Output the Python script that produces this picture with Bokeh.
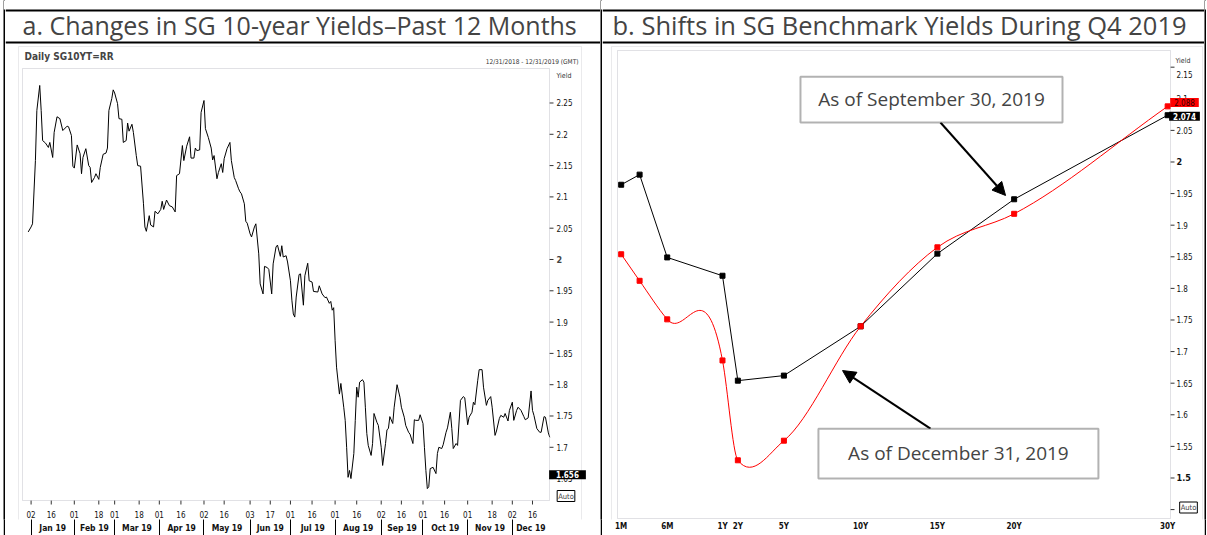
import numpy as np
from bokeh.plotting import figure
from bokeh.layouts import row
from bokeh.models import (Range1d, FixedTicker, Label, Arrow,
                          NormalHead, BoxAnnotation, Span)
from bokeh.core.properties import value
from bokeh.embed import file_html
from bokeh.resources import INLINE

# ---------------- data: panel a (daily SG 10Y yield, day offset from 31 Dec 2018) -------------
day_a = [
    0, 2, 3, 5, 6, 8, 9, 10, 12, 14,
    15, 17, 18, 20, 22, 24, 27, 28, 30, 31,
    32, 34, 36, 37, 38, 40, 42, 43, 44, 46,
    47, 49, 50, 52, 54, 55, 56, 58, 59, 60,
    62, 63, 65, 66, 68, 69, 70, 72, 73, 75,
    76, 78, 80, 81, 82, 84, 85, 87, 88, 90,
    92, 93, 94, 96, 98, 100, 102, 103, 105, 107,
    108, 110, 112, 113, 115, 116, 117, 119, 120, 122,
    123, 125, 127, 128, 129, 131, 132, 134, 135, 136,
    138, 140, 141, 143, 144, 146, 147, 148, 150, 151,
    152, 154, 155, 157, 158, 160, 161, 163, 164, 166,
    167, 169, 170, 172, 173, 175, 176, 177, 179, 180,
    182, 183, 184, 185, 186, 188, 189, 191, 192, 194,
    195, 197, 198, 201, 202, 204, 206, 207, 209, 210,
    211, 212, 213, 214, 216, 217, 219, 220, 221, 222,
    223, 224, 226, 227, 228, 229, 230, 232, 233, 234,
    235, 236, 238, 239, 240, 242, 243, 245, 246, 248,
    249, 250, 251, 253, 254, 256, 258, 259, 261, 262,
    264, 265, 267, 268, 269, 271, 272, 274, 275, 276,
    277, 278, 279, 281, 283, 284, 285, 287, 288, 290,
    291, 293, 294, 295, 297, 298, 300, 302, 303, 305,
    306, 308, 309, 310, 312, 313, 315, 316, 318, 319,
    321, 322, 324, 325, 327, 328, 330, 331, 333, 334,
    336, 337, 339, 340, 342, 344, 345, 347, 349, 350,
    351, 353, 355, 356, 358, 359, 361, 362,
]
yield_a = [
    2.044, 2.052, 2.057, 2.158, 2.238, 2.278, 2.238, 2.190, 2.186, 2.179,
    2.187, 2.163, 2.203, 2.228, 2.225, 2.206, 2.213, 2.212, 2.198, 2.149,
    2.146, 2.183, 2.169, 2.137, 2.163, 2.177, 2.150, 2.147, 2.123, 2.131,
    2.137, 2.128, 2.147, 2.168, 2.170, 2.178, 2.238, 2.257, 2.271, 2.266,
    2.249, 2.225, 2.224, 2.187, 2.190, 2.218, 2.205, 2.216, 2.203, 2.166,
    2.150, 2.149, 2.089, 2.052, 2.045, 2.070, 2.055, 2.052, 2.077, 2.073,
    2.080, 2.093, 2.080, 2.095, 2.086, 2.084, 2.076, 2.134, 2.137, 2.182,
    2.158, 2.181, 2.196, 2.162, 2.162, 2.178, 2.174, 2.175, 2.235, 2.254,
    2.209, 2.195, 2.178, 2.159, 2.166, 2.129, 2.139, 2.153, 2.139, 2.161,
    2.177, 2.187, 2.158, 2.131, 2.126, 2.113, 2.108, 2.105, 2.089, 2.061,
    2.058, 2.041, 2.036, 2.052, 2.057, 2.009, 1.961, 1.945, 1.989, 1.987,
    1.984, 1.945, 1.993, 2.020, 2.023, 2.005, 2.022, 2.004, 2.006, 1.996,
    1.966, 1.935, 1.913, 1.908, 1.940, 1.976, 1.977, 1.927, 1.974, 1.994,
    1.966, 1.964, 1.949, 1.948, 1.958, 1.945, 1.939, 1.940, 1.930, 1.933,
    1.919, 1.923, 1.871, 1.828, 1.785, 1.802, 1.764, 1.743, 1.700, 1.652,
    1.663, 1.650, 1.690, 1.743, 1.796, 1.780, 1.804, 1.808, 1.804, 1.764,
    1.722, 1.703, 1.687, 1.706, 1.754, 1.740, 1.735, 1.700, 1.671, 1.706,
    1.728, 1.730, 1.749, 1.738, 1.764, 1.800, 1.780, 1.764, 1.748, 1.735,
    1.724, 1.721, 1.706, 1.744, 1.743, 1.743, 1.752, 1.738, 1.700, 1.663,
    1.634, 1.637, 1.666, 1.668, 1.658, 1.690, 1.700, 1.698, 1.704, 1.724,
    1.731, 1.756, 1.730, 1.698, 1.706, 1.703, 1.775, 1.781, 1.779, 1.736,
    1.748, 1.756, 1.772, 1.768, 1.807, 1.824, 1.824, 1.796, 1.767, 1.775,
    1.781, 1.764, 1.719, 1.726, 1.746, 1.751, 1.748, 1.754, 1.742, 1.759,
    1.772, 1.743, 1.759, 1.764, 1.759, 1.749, 1.744, 1.747, 1.790, 1.759,
    1.751, 1.730, 1.724, 1.724, 1.749, 1.748, 1.723, 1.716,
]
day_ticks_a = [2, 16, 32, 49, 60, 77, 91, 106, 122, 136, 154, 168,
               182, 197, 213, 228, 245, 259, 274, 289, 305, 322, 336, 350]
day_tick_labels_a = ["02", "16", "01", "18", "01", "18", "01", "16", "02", "16", "03", "17",
                     "01", "16", "01", "16", "02", "16", "01", "16", "01", "18", "02", "16"]
month_starts_a = [2, 32, 60, 91, 122, 154, 182, 213, 245, 274, 305, 336]
month_labels_a = ["Jan 19", "Feb 19", "Mar 19", "Apr 19", "May 19", "Jun 19",
                  "Jul 19", "Aug 19", "Sep 19", "Oct 19", "Nov 19", "Dec 19"]
y_ticks_a = [1.65, 1.7, 1.75, 1.8, 1.85, 1.9, 1.95, 2.0, 2.05, 2.1, 2.15, 2.2, 2.25]
y_tick_labels_a = ["1.65", "1.7", "1.75", "1.8", "1.85", "1.9", "1.95", "2", "2.05",
                   "2.1", "2.15", "2.2", "2.25"]
last_close_a = 1.656

# ---------------- data: panel b (SG benchmark curve) ----------------
tenor_years = [1 / 12, 0.25, 0.5, 1, 2, 5, 10, 15, 20, 30]
tenor_labels = ["1M", "", "6M", "1Y", "2Y", "5Y", "10Y", "15Y", "20Y", "30Y"]
yield_sep30 = [1.964, 1.980, 1.849, 1.820, 1.654, 1.662, 1.740, 1.855, 1.941, 2.074]
yield_dec31 = [1.854, 1.812, 1.751, 1.686, 1.528, 1.559, 1.740, 1.865, 1.918, 2.088]
y_ticks_b = [1.45, 1.5, 1.55, 1.6, 1.65, 1.7, 1.75, 1.8, 1.85, 1.9, 1.95, 2.0, 2.05, 2.1, 2.15]
y_tick_labels_b = ["", "1.5", "1.55", "1.6", "1.65", "1.7", "1.75", "1.8", "1.85", "1.9",
                   "1.95", "2", "2.05", "2.1", "2.15"]
SHORT_END_STRETCH = 7.2   # the chart's maturity axis expands tenors under 1 year


def tenor_axis(t):
    return t if t >= 1 else 1 - (1 - t) * SHORT_END_STRETCH


NARROW = "'Liberation Sans Narrow', 'DejaVu Sans Condensed', sans-serif"
FRAME = "#9a9aaa"
IMG_EDGE = "#b8b8c0"
PAGE_H = 535
FRAME_BOTTOM = 519   # shared frame bottom of every figure in the row
TABLE_TOP = 9        # page row where the table's top rule starts


def px_map(d0, d1, p0, p1):
    k = (d1 - d0) / (p1 - p0)
    return lambda p: d0 + (p - p0) * k


def plain_figure(w, bg):
    f = figure(width=w, height=PAGE_H, title=None, toolbar_location=None, output_backend="svg",
               x_axis_location=None, y_axis_location=None, min_border_left=0,
               min_border_right=0, min_border_top=0, min_border_bottom=PAGE_H - FRAME_BOTTOM,
               outline_line_color=None, background_fill_color=bg, border_fill_color=bg,
               x_range=Range1d(0, 1), y_range=Range1d(0, FRAME_BOTTOM))
    f.grid.visible = False
    return f


def vrule(w):
    f = plain_figure(w, "black")
    f.add_layout(BoxAnnotation(bottom=FRAME_BOTTOM - TABLE_TOP, top=FRAME_BOTTOM,
                               fill_color="white", fill_alpha=1, line_color=None))
    return f


def lab(**kw):
    pad = kw.pop("padding", None)
    l = Label(**kw)
    if pad is not None:
        try:
            l.padding = pad
        except Exception:
            try:
                l.padding = 2
            except Exception:
                pass
    return l


def style_axis(ax, size="8px", bold=False):
    ax.axis_line_color = None
    ax.major_label_text_font = NARROW
    ax.major_label_text_font_size = size
    ax.major_label_text_color = "#111111"
    if bold:
        ax.major_label_text_font_style = "bold"


def cell_figure(width, fx, fy, left_px, right_px):
    p = figure(width=width, height=PAGE_H, title=None,
               x_range=Range1d(fx(left_px), fx(right_px)),
               y_range=Range1d(fy(FRAME_BOTTOM), fy(0)),
               y_axis_location=None, toolbar_location=None, output_backend="svg",
               min_border_left=0, min_border_right=0, min_border_top=0,
               min_border_bottom=PAGE_H - FRAME_BOTTOM,
               outline_line_color=None, background_fill_color="white",
               border_fill_color="white")
    p.grid.visible = False
    # table rules of the header row
    p.add_layout(Span(location=fy(TABLE_TOP + 1), dimension="width", line_color="black",
                      line_width=2))
    p.add_layout(Span(location=fy(42), dimension="width", line_color="black", line_width=2))
    return p


def right_scale(p, x_edge, x_tick_end, x_label, ticks, labels, skip=()):
    keep = [(t, s) for t, s in zip(ticks, labels) if s and s not in skip]
    p.segment(x0=[x_edge] * len(ticks), x1=[x_tick_end] * len(ticks), y0=ticks, y1=ticks,
              line_color="#333333", line_width=1)
    p.text(x=[x_label] * len(keep), y=[t for t, _ in keep], text=[s for _, s in keep],
           text_font=value(NARROW), text_font_size="8px", text_color="#111111",
           text_align="left", text_baseline="middle")


def hermite_bezier(xs, ys):
    """Smooth curve through the points: cubic Hermite, three-point slopes,
    slopes limited at local extrema of the data."""
    x = np.asarray(xs, float)
    y = np.asarray(ys, float)
    h = np.diff(x)
    d = np.diff(y) / h
    m = np.empty_like(y)
    m[0], m[-1] = d[0], d[-1]
    inner = (h[1:] * d[:-1] + h[:-1] * d[1:]) / (h[:-1] + h[1:])
    lim = 3 * np.minimum(np.abs(d[:-1]), np.abs(d[1:]))
    m[1:-1] = np.where(d[:-1] * d[1:] < 0, np.clip(inner, -lim, lim), inner)
    return dict(x0=x[:-1], y0=y[:-1], x1=x[1:], y1=y[1:],
                cx0=x[:-1] + h / 3, cy0=y[:-1] + m[:-1] * h / 3,
                cx1=x[1:] - h / 3, cy1=y[1:] - m[1:] * h / 3)


# ================= panel a (page x 5..600) =================
XA0, XA1 = -3.96, 361.8          # plot-box x extent (days)
YA_TOP, YA_BOT = 2.3051, 1.6150  # plot-box y extent (yield)
fxa = px_map(XA0, XA1, 22, 549)  # page pixel column -> day
fya = px_map(YA_TOP, YA_BOT, 68, 500)  # page pixel row -> yield

pa = cell_figure(595, fxa, fya, 5, 600)
pa.add_layout(BoxAnnotation(left=fxa(18), right=fxa(581), top=fya(46), bottom=fya(900),
                            fill_color=None, line_color=IMG_EDGE, line_width=1))
pa.add_layout(BoxAnnotation(left=XA0, right=XA1, top=YA_TOP, bottom=YA_BOT,
                            fill_color=None, line_color=FRAME, line_width=1))
pa.line(day_a, yield_a, line_color="black", line_width=1)
right_scale(pa, XA1, fxa(553), fxa(556), y_ticks_a, y_tick_labels_a, skip=("2",))

# day ticks + day labels under the plot box
pa.segment(x0=day_ticks_a, x1=day_ticks_a, y0=[YA_BOT] * len(day_ticks_a),
           y1=[fya(504)] * len(day_ticks_a), line_color="#333333", line_width=1)
pa.text(x=day_ticks_a, y=[fya(514)] * len(day_ticks_a), text=day_tick_labels_a,
        text_font=value(NARROW), text_font_size="8px", text_color="#111111",
        text_align="center", text_baseline="middle")

# month axis (Bokeh axis below the frame): separators as minor ticks, names as labels
month_centers = [(a + b) / 2 for a, b in zip(month_starts_a, month_starts_a[1:] + [XA1])]
ma = pa.xaxis[0]
ma.ticker = FixedTicker(ticks=month_centers, minor_ticks=month_starts_a)
ma.major_label_overrides = dict(zip(month_centers, month_labels_a))
style_axis(ma, "8.5px", bold=True)
ma.major_tick_line_color = None
ma.major_tick_in = 0
ma.major_tick_out = 0
ma.minor_tick_line_color = "black"
ma.minor_tick_in = 0
ma.minor_tick_out = 16
ma.major_label_standoff = -13

pa.add_layout(lab(x=fxa(22), y=fya(24), text="a. Changes in SG 10-year Yields\u2013Past 12 Months",
                  text_font="Open Sans", text_font_size="25px", text_baseline="middle"))
pa.add_layout(lab(x=fxa(556), y=2.0, text="2", text_font=NARROW, text_font_size="9px",
                  text_font_style="bold", text_baseline="middle"))
pa.add_layout(lab(x=fxa(24), y=fya(56), text="Daily SG10YT=RR", text_font=NARROW,
                  text_font_size="10px", text_font_style="bold", text_baseline="middle"))
pa.add_layout(lab(x=fxa(578), y=fya(61), text="12/31/2018 - 12/31/2019 (GMT)",
                  text_font=NARROW, text_font_size="6.5px", text_align="right",
                  text_baseline="middle", text_color="#333333"))
pa.add_layout(lab(x=fxa(556), y=fya(75), text="Yield", text_font=NARROW,
                  text_font_size="7px", text_baseline="middle", text_color="#333333"))
pa.add_layout(lab(x=fxa(567), y=last_close_a, text=f"{last_close_a:.3f}", text_font=NARROW,
                  text_font_size="8px", text_font_style="bold", text_color="white",
                  text_align="center", text_baseline="middle", background_fill_color="black",
                  padding=dict(left=7, right=7, top=1, bottom=1)))
pa.add_layout(lab(x=fxa(565.5), y=fya(495.5), text="Auto", text_font=NARROW,
                  text_font_size="7.5px", text_align="center", text_baseline="middle",
                  border_line_color="black", background_fill_color="white", padding=1))

# ================= panel b (page x 602..1204) =================
XB0, XB1 = -5.84, 30.186
YB_TOP, YB_BOT = 2.1764, 1.4359
fxb = px_map(XB0, XB1, 617, 1170)
fyb = px_map(YB_TOP, YB_BOT, 50, 518)

pb = cell_figure(602, fxb, fyb, 602, 1204)
pb.add_layout(BoxAnnotation(left=fxb(611), right=fxb(1202), top=fyb(46), bottom=fyb(900),
                            fill_color=None, line_color=IMG_EDGE, line_width=1))
pb.add_layout(BoxAnnotation(left=XB0, right=XB1, top=YB_TOP, bottom=YB_BOT,
                            fill_color=None, line_color=FRAME, line_width=1))

tx = [tenor_axis(t) for t in tenor_years]
pb.line(tx, yield_sep30, line_color="black", line_width=1)
pb.scatter(tx, yield_sep30, marker="square", size=5, color="black")
pb.bezier(**hermite_bezier(tx, yield_dec31), line_color="#ff0000", line_width=1)
pb.scatter(tx, yield_dec31, marker="square", size=5, color="#ff0000")
right_scale(pb, XB1, fxb(1174), fxb(1176), y_ticks_b, y_tick_labels_b,
            skip=("2", "1.5", "2.15"))

xb = pb.xaxis[0]
xb.ticker = FixedTicker(ticks=[x for x, l in zip(tx, tenor_labels) if l])
xb.major_label_overrides = {x: l for x, l in zip(tx, tenor_labels) if l}
style_axis(xb, "8px", bold=True)
xb.major_tick_line_color = None
xb.minor_tick_line_color = None
xb.major_tick_out = 0
xb.major_tick_in = 0
xb.minor_tick_out = 0
xb.minor_tick_in = 0
xb.major_label_standoff = 2

for val, txt, bold in [(2.0, "2", True), (1.5, "1.5", True), (fyb(74), "2.15", False)]:
    pb.add_layout(lab(x=fxb(1176), y=val, text=txt, text_font=NARROW,
                      text_font_size="9px" if bold else "8px",
                      text_font_style="bold" if bold else "normal", text_baseline="middle",
                      text_color="#111111"))
pb.add_layout(lab(x=fxb(612), y=fyb(24), text="b. Shifts in SG Benchmark Yields During Q4 2019",
                  text_font="Open Sans", text_font_size="25.5px", text_baseline="middle"))
pb.add_layout(lab(x=fxb(1175), y=fyb(60), text="Yield", text_font=NARROW,
                  text_font_size="7px", text_baseline="middle", text_color="#333333"))
pb.add_layout(lab(x=fxb(1184), y=fyb(102), text=f"{yield_dec31[-1]:.3f}", text_font=NARROW,
                  text_font_size="8px", text_color="#330000", text_align="center",
                  text_baseline="middle", background_fill_color="#ff0000",
                  padding=dict(left=4, right=4, top=1, bottom=1)))
pb.add_layout(lab(x=fxb(1184), y=fyb(115.7), text=f"{yield_sep30[-1]:.3f}", text_font=NARROW,
                  text_font_size="8px", text_font_style="bold", text_color="white",
                  text_align="center", text_baseline="middle", background_fill_color="black",
                  padding=dict(left=4, right=4, top=1, bottom=1)))
pb.add_layout(lab(x=fxb(1188), y=fyb(507), text="Auto", text_font=NARROW,
                  text_font_size="7.5px", text_align="center", text_baseline="middle",
                  border_line_color="black", background_fill_color="white", padding=1))

# callouts
pb.add_layout(Arrow(end=NormalHead(size=13, fill_color="black", line_color="black"),
                    x_start=15.20, y_start=2.0625, x_end=19.44, y_end=1.947,
                    line_width=2, line_color="black"))
pb.add_layout(Arrow(end=NormalHead(size=13, fill_color="black", line_color="black"),
                    x_start=14.55, y_start=1.578, x_end=8.82, y_end=1.670,
                    line_width=2, line_color="black"))
pb.add_layout(BoxAnnotation(left=6.08, right=23.15, bottom=2.0625, top=2.135,
                            fill_color="white", fill_alpha=1, line_color="black", line_width=2))
pb.add_layout(BoxAnnotation(left=7.25, right=25.49, bottom=1.499, top=1.578,
                            fill_color="white", fill_alpha=1, line_color="black", line_width=2))
pb.add_layout(lab(x=14.62, y=2.0989, text="As of September 30, 2019", text_font="Open Sans",
                  text_font_size="19px", text_align="center", text_baseline="middle"))
pb.add_layout(lab(x=16.37, y=1.5388, text="As of December 31, 2019", text_font="Open Sans",
                  text_font_size="19px", text_align="center", text_baseline="middle"))

# ================= table layout (page 1206 x 535) =================
page = row(plain_figure(3, "white"), vrule(2), pa, vrule(2), pb, vrule(2))

open("out.html", "w").write(file_html(page, INLINE))
